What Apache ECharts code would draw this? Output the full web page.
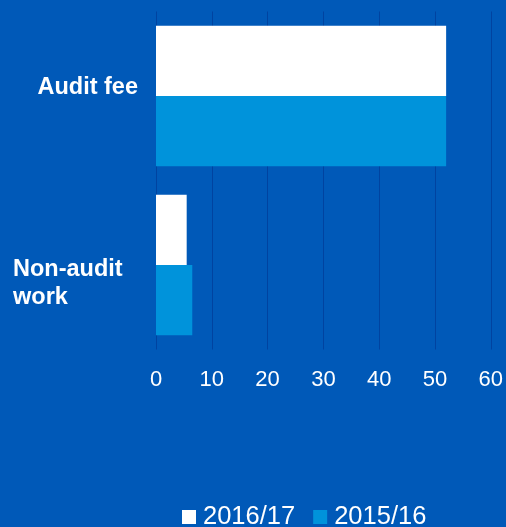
<!DOCTYPE html>
<html>
<head>
<meta charset="utf-8">
<script src="https://cdn.jsdelivr.net/npm/echarts@6/dist/echarts.min.js"></script>
<style>
html,body{margin:0;padding:0;background:#0059b8;}
#c{width:506px;height:527px;}
</style>
</head>
<body>
<div id="c"></div>
<script>
const categories = ['Audit fee', 'Non-audit\nwork'];
const seriesNames = ['2016/17', '2015/16'];
const values2016 = [52, 5.5];
const values2015 = [52, 6.5];
const xTicks = [0, 10, 20, 30, 40, 50, 60];

const chart = echarts.init(document.getElementById('c'));
chart.setOption({
  backgroundColor: '#0059b8',
  animation: false,
  textStyle: { fontFamily: 'Liberation Sans, Arial, sans-serif' },
  grid: { left: 156, right: 15, top: 11.5, bottom: 177.5 },
  legend: {
    data: seriesNames,
    left: 182, top: 504, padding: 0,
    itemWidth: 14, itemHeight: 14, itemGap: 18,
    icon: 'rect',
    textStyle: { color: '#ffffff', fontSize: 25.5, padding: [0, 0, 0, 2], fontFamily: 'Liberation Sans, Arial, sans-serif' }
  },
  xAxis: {
    type: 'value',
    min: xTicks[0], max: xTicks[xTicks.length - 1], interval: 10,
    axisLine: { show: false },
    axisTick: { show: false },
    splitLine: { show: true, lineStyle: { color: '#0043a0', width: 1 } },
    axisLabel: { color: '#ffffff', fontSize: 22, margin: 19 }
  },
  yAxis: {
    type: 'category',
    inverse: true,
    data: [
      { value: categories[0] },
      { value: categories[1], textStyle: { padding: [38, 0, 0, 0] } }
    ],
    axisLine: { show: false },
    axisTick: { show: false },
    axisLabel: {
      margin: 18,
      formatter: function (v) {
        if (v === categories[0]) return '{a|' + v + '}';
        return v.split('\n').map(s => '{n|' + s + '}').join('\n');
      },
      rich: {
        a: { color: '#ffffff', fontSize: 23.5, fontWeight: 'bold', padding: [0, 0, 16, 0] },
        n: { color: '#ffffff', fontSize: 23.5, fontWeight: 'bold', width: 125, align: 'left', lineHeight: 28 }
      }
    }
  },
  series: [
    { name: seriesNames[0], type: 'bar', data: values2016, itemStyle: { color: '#ffffff' }, barGap: '0%', barCategoryGap: '17%' },
    { name: seriesNames[1], type: 'bar', data: values2015, itemStyle: { color: '#0093db' }, barGap: '0%', barCategoryGap: '17%' }
  ]
});
</script>
</body>
</html>
